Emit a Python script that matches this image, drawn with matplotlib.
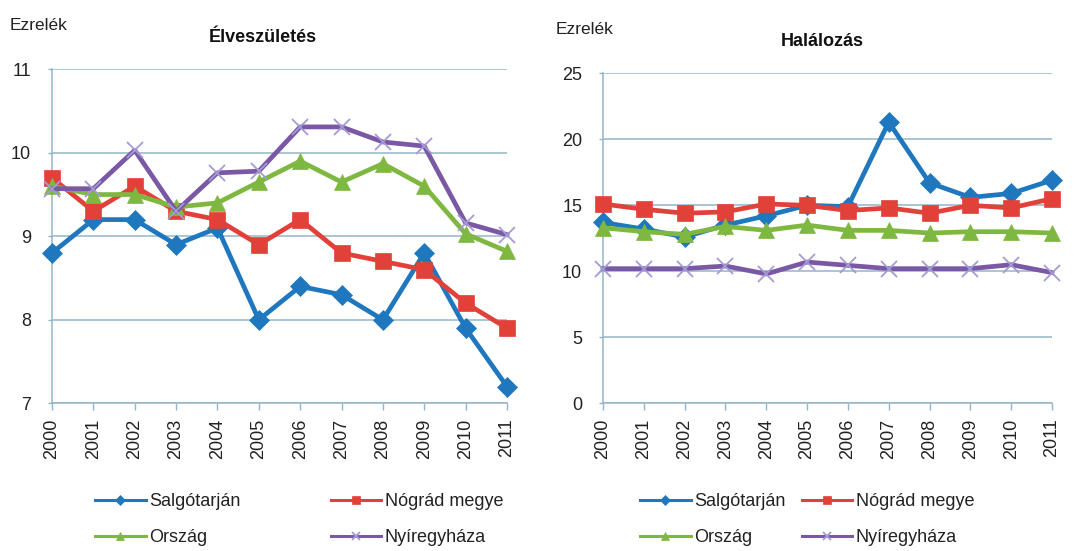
import matplotlib
matplotlib.use("Agg")
import matplotlib.pyplot as plt

plt.rcParams['font.family'] = ['Liberation Sans', 'DejaVu Sans']

years = [2000, 2001, 2002, 2003, 2004, 2005, 2006, 2007, 2008, 2009, 2010, 2011]
series_names = ["Salgótarján", "Nógrád megye", "Ország", "Nyíregyháza"]

# Élveszületés (ezrelék)
birth_salgotarjan = [8.8, 9.2, 9.2, 8.9, 9.1, 8.0, 8.4, 8.3, 8.0, 8.8, 7.9, 7.2]
birth_nograd = [9.7, 9.3, 9.6, 9.3, 9.2, 8.9, 9.2, 8.8, 8.7, 8.6, 8.2, 7.9]
birth_orszag = [9.6, 9.5, 9.5, 9.35, 9.4, 9.65, 9.9, 9.65, 9.87, 9.6, 9.03, 8.82]
birth_nyiregyhaza = [9.57, 9.57, 10.03, 9.3, 9.76, 9.78, 10.31, 10.31, 10.13, 10.08, 9.16, 9.02]

# Halálozás (ezrelék)
death_salgotarjan = [13.7, 13.2, 12.6, 13.5, 14.2, 15.0, 14.9, 21.3, 16.7, 15.6, 15.9, 16.9]
death_nograd = [15.1, 14.7, 14.4, 14.5, 15.1, 15.0, 14.6, 14.8, 14.4, 15.0, 14.8, 15.5]
death_orszag = [13.3, 13.0, 12.8, 13.4, 13.1, 13.5, 13.1, 13.1, 12.9, 13.0, 13.0, 12.9]
death_nyiregyhaza = [10.2, 10.2, 10.2, 10.4, 9.8, 10.7, 10.45, 10.2, 10.2, 10.2, 10.5, 9.9]

birth_ticks = [7, 8, 9, 10, 11]
death_ticks = [0, 5, 10, 15, 20, 25]

colors = ['#1f78bd', '#e2413a', '#7fb841', '#7a58a5']
markers = ['D', 's', '^', 'x']
msizes = [10, 12, 12, 12]
mcolors = ['#1f78bd', '#e2413a', '#7fb841', '#a39bd6']
grid_c = '#93b5c9'
text_c = '#222222'

W, H = 1077, 551
fig = plt.figure(figsize=(W / 100, H / 100), dpi=100)

def fx(px):
    return px / W

def fy(py):
    return 1 - py / H

ax1 = fig.add_axes([fx(52), fy(403.3), fx(507) - fx(52), fy(69.3) - fy(403.3)])
ax2 = fig.add_axes([fx(603), fy(403.3), fx(1052) - fx(603), fy(73.3) - fy(403.3)])
leg_cs = {ax1: 5.0, ax2: 0.9}

def draw(ax, data, yt, title, title_x, title_y, ez_x, ez_y, leg_x):
    lines = []
    for vals, c, m, ms, mc, name in zip(data, colors, markers, msizes, mcolors, series_names):
        ln, = ax.plot(years, vals, color=c, lw=3.4, marker=m, markersize=ms,
                      markerfacecolor=mc, markeredgecolor=mc,
                      markeredgewidth=1.3 if m == 'x' else 0.5,
                      clip_on=False, zorder=3, label=name)
        lines.append(ln)
    ax.set_xlim(years[0], years[-1])
    ax.set_ylim(yt[0], yt[-1])
    ax.set_yticks(yt)
    ax.set_yticklabels([str(v) for v in yt])
    ax.set_xticks(years)
    ax.set_xticklabels([str(y) for y in years], rotation=90)
    ax.grid(axis='y', color=grid_c, lw=1.1)
    ax.set_axisbelow(True)
    for s in ['top', 'right']:
        ax.spines[s].set_visible(False)
    for s in ['left', 'bottom']:
        ax.spines[s].set_color(grid_c)
        ax.spines[s].set_linewidth(1.1)
    ax.tick_params(axis='y', length=3, width=1, color=grid_c, pad=12,
                   labelsize=13, labelcolor=text_c)
    ax.tick_params(axis='x', length=5, width=1, color=grid_c, pad=6,
                   labelsize=13, labelcolor=text_c)
    fig.text(fx(title_x), fy(title_y), title, ha='center', va='center',
             fontsize=13, fontweight='bold', color='#111111')
    fig.text(fx(ez_x), fy(ez_y), "Ezrelék", ha='left', va='center',
             fontsize=12.5, color=text_c)
    order = [0, 2, 1, 3]
    leg = ax.legend([lines[i] for i in order], [series_names[i] for i in order],
                    ncol=2, loc='upper left',
                    bbox_to_anchor=(fx(leg_x), fy(493)),
                    bbox_transform=fig.transFigure, frameon=False,
                    fontsize=13, handlelength=2.8, handletextpad=0.2,
                    columnspacing=leg_cs[ax], labelspacing=1.05,
                    borderpad=0, borderaxespad=0, markerscale=0.5)
    for h in leg.legend_handles:
        h.set_linewidth(2.2)
    for t in leg.get_texts():
        t.set_color(text_c)
    return lines

draw(ax1, [birth_salgotarjan, birth_nograd, birth_orszag, birth_nyiregyhaza],
     birth_ticks, "Élveszületés", 263, 38, 10, 25, 95)
draw(ax2, [death_salgotarjan, death_nograd, death_orszag, death_nyiregyhaza],
     death_ticks, "Halálozás", 822, 41, 556, 29, 640)

fig.savefig("out.png", dpi=100, facecolor='white')
